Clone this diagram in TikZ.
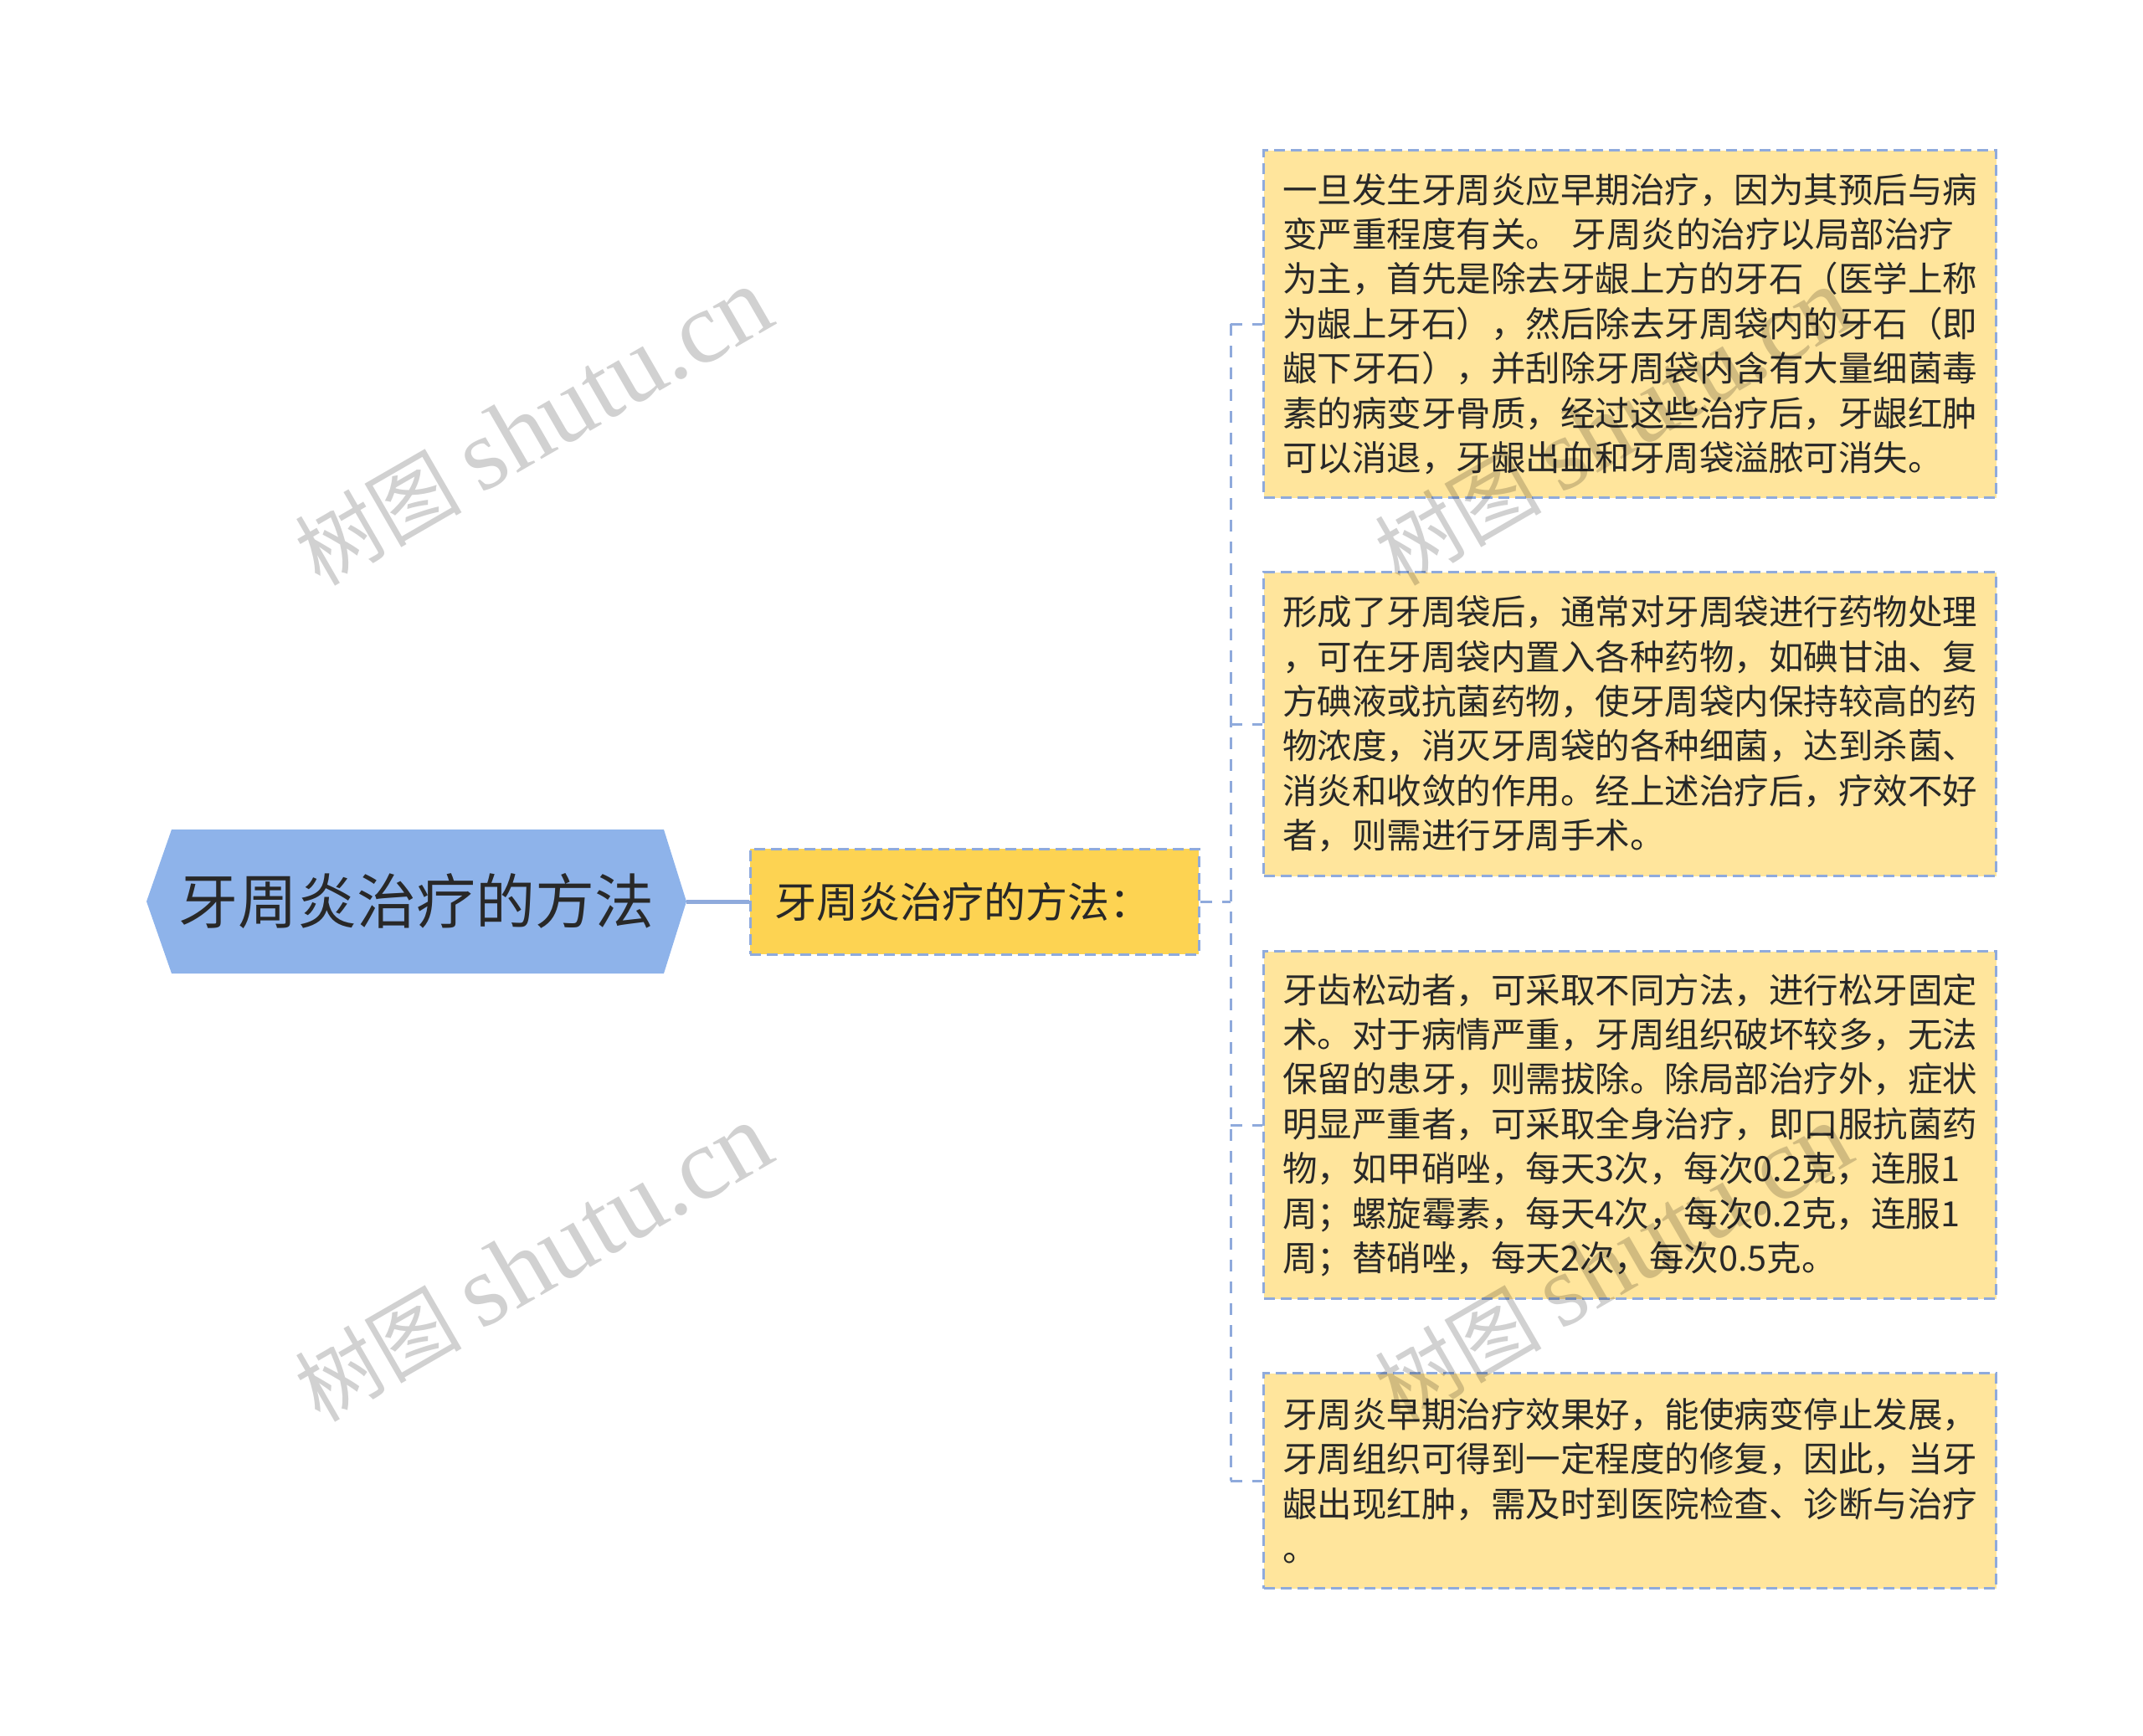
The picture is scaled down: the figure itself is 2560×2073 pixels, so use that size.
\documentclass[tikz,border=0pt]{standalone}
\usepackage{fontspec}
\setmainfont{Noto Sans CJK SC}
\newfontfamily\wmlat{Liberation Serif}
\definecolor{rootfill}{RGB}{142,179,234}
\definecolor{midfill}{RGB}{253,211,82}
\definecolor{leaffill}{RGB}{255,229,156}
\definecolor{edgeblue}{RGB}{143,170,220}
\definecolor{txt}{RGB}{40,40,40}
\tikzset{
  leafbox/.style={draw=edgeblue, line width=1.5pt, dash pattern=on 6.5pt off 3.5pt,
    fill=leaffill, text=txt, align=left, text width=415pt, inner xsep=11.25pt,
    inner ysep=0pt, font=\fontsize{20.75pt}{26.7pt}\selectfont, anchor=north west},
  midbox/.style={draw=edgeblue, line width=1.5pt, dash pattern=on 6.5pt off 3.5pt,
    fill=midfill, text=txt, minimum width=268pt, minimum height=63pt, inner ysep=0pt,
    inner xsep=14.5pt, text width=239pt, align=left,
    font=\fontsize{25pt}{30pt}\selectfont},
  rootlabel/.style={text=txt, minimum width=322.5pt, minimum height=86pt, inner sep=0pt,
    font=\fontsize{35.5pt}{40pt}\selectfont},
  rootline/.style={draw=edgeblue, line width=2.5pt},
  branch/.style={draw=edgeblue, line width=1.5pt, dash pattern=on 7pt off 6pt},
  watermark/.style={text=black, text opacity=0.18, rotate=30, anchor=base west,
    inner sep=0pt, font=\fontsize{50pt}{60pt}\selectfont}
}
\newcommand{\wmtext}{树图 {\wmlat\fontsize{61pt}{61pt}\selectfont shutu.cn}}
\begin{document}
\begin{tikzpicture}[x=0.5pt,y=-0.5pt]
\useasboundingbox (0,0) rectangle (2560,2073);
% root hexagon
\fill[rootfill] (175,1077) -- (205,991) -- (793,991) -- (820,1077) -- (793,1163) -- (205,1163) -- cycle;
\node[rootlabel] (root) at (497.5,1077) {牙周炎治疗的方法};
% middle
\node[midbox] (mid) at (1164,1077) {牙周炎治疗的方法：};
% leaves
\node[leafbox, minimum height=207.5pt] (b1) at (1508,178) {一旦发生牙周炎应早期治疗，因为其预后与病\\
变严重程度有关。 牙周炎的治疗以局部治疗\\
为主，首先是除去牙龈上方的牙石（医学上称\\
为龈上牙石），然后除去牙周袋内的牙石（即\\
龈下牙石），并刮除牙周袋内含有大量细菌毒\\
素的病变牙骨质，经过这些治疗后，牙龈红肿\\
可以消退，牙龈出血和牙周袋溢脓可消失。};
\node[leafbox, minimum height=181.5pt] (b2) at (1508,682) {形成了牙周袋后，通常对牙周袋进行药物处理\\
，可在牙周袋内置入各种药物，如碘甘油、复\\
方碘液或抗菌药物，使牙周袋内保持较高的药\\
物浓度，消灭牙周袋的各种细菌，达到杀菌、\\
消炎和收敛的作用。经上述治疗后，疗效不好\\
者，则需进行牙周手术。};
\node[leafbox, minimum height=207.5pt] (b3) at (1508,1135) {牙齿松动者，可采取不同方法，进行松牙固定\\
术。对于病情严重，牙周组织破坏较多，无法\\
保留的患牙，则需拔除。除局部治疗外，症状\\
明显严重者，可采取全身治疗，即口服抗菌药\\
物，如甲硝唑，每天3次，每次0.2克，连服1\\
周；螺旋霉素，每天4次，每次0.2克，连服1\\
周；替硝唑，每天2次，每次0.5克。};
\node[leafbox, minimum height=128.5pt] (b4) at (1508,1639) {牙周炎早期治疗效果好，能使病变停止发展，\\
牙周组织可得到一定程度的修复，因此，当牙\\
龈出现红肿，需及时到医院检查、诊断与治疗\\
。};
% connectors
\draw[rootline] (root.east) -- (mid.west);
\coordinate (j) at (1470,1077);
\draw[branch] (mid.east) -- (j);
\draw[branch] (b1.west -| j) -- (b4.west -| j);
\draw[branch] (b1.west -| j) -- (b1.west);
\draw[branch] (b2.west -| j) -- (b2.west);
\draw[branch] (b3.west -| j) -- (b3.west);
\draw[branch] (b4.west -| j) -- (b4.west);
% watermarks
\node[watermark] (w1) at (382,702) {\wmtext};
\node[watermark] (w2) at (382,1701) {\wmtext};
\node[watermark] (w3) at (1672,702) {\wmtext};
\node[watermark] (w4) at (1672,1701) {\wmtext};
\end{tikzpicture}
\end{document}
